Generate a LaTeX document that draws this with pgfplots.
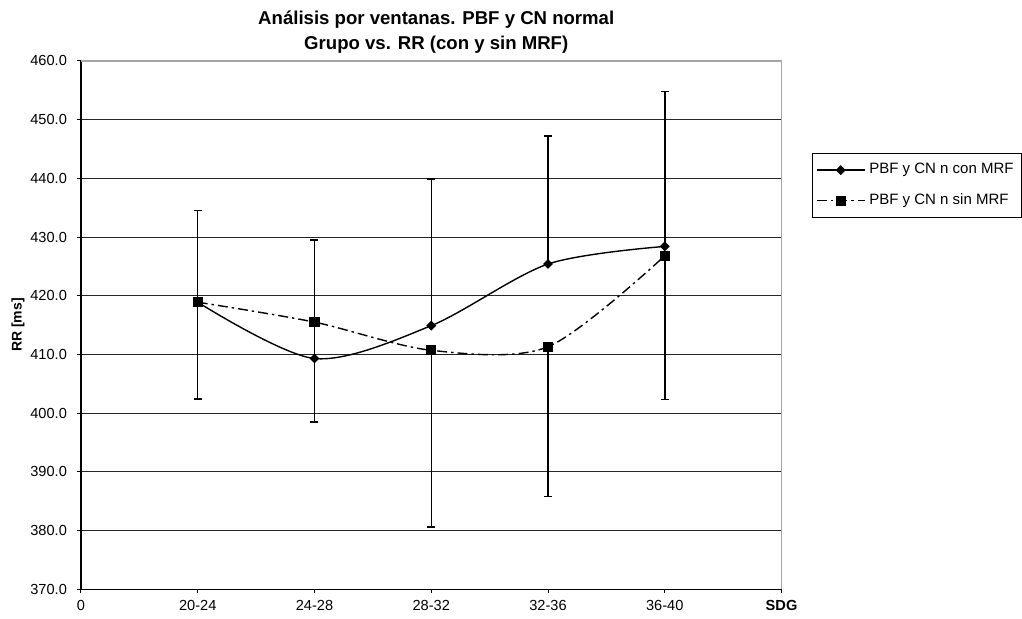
\documentclass[border=0pt]{standalone}
\usepackage{fontspec}
\setmainfont{Liberation Sans}
\usepackage{pgfplots}
\pgfplotsset{compat=1.18}
\begin{document}
\begin{tikzpicture}
\begin{axis}[
  name=ax, scale only axis, width=350.5pt, height=264.25pt,
  xmin=0, xmax=6, ymin=370, ymax=460,
  axis lines=left, axis line style={-, black, line width=0.6pt},
  xtick={0,...,6},
  xticklabels={0,20-24,24-28,28-32,32-36,36-40,\textbf{SDG}},
  ytick={370,380,...,460},
  ymajorgrids, grid style={black!85, line width=0.45pt},
  tick style={black, line width=0.5pt}, major tick length=2pt, tick align=outside,
  ticklabel style={font=\fontsize{7.3}{8}\selectfont},
  /pgf/number format/assume math mode=true,
  yticklabel style={/pgf/number format/fixed, /pgf/number format/fixed zerofill, /pgf/number format/precision=1, xshift=-1.5pt},
  xticklabel style={yshift=0pt},
  clip=false,
  legend cell align=left,
  legend style={at={(1,1)}, anchor=north west, xshift=15pt, yshift=-46pt,
    draw=black, line width=0.5pt, font=\fontsize{7.5}{9}\selectfont,
    inner xsep=2pt, inner ysep=3pt, row sep=4.5pt},
  legend image code/.code={\draw[mark repeat=2,mark phase=2,#1] plot coordinates {(0pt,0pt) (12pt,0pt) (24pt,0pt)};},
]
\addlegendimage{black, line width=0.7pt, mark=square*, mark size=1.4pt, mark options={rotate=45, solid}}
\addlegendentry{PBF y CN n con MRF}
\addlegendimage{black, line width=0.7pt, dash pattern=on 5pt off 2pt on 1.2pt off 2pt, mark=square*, mark size=2.2pt, mark options={solid}}
\addlegendentry{PBF y CN n sin MRF}

\addplot[forget plot, black, line width=0.7pt, smooth, tension=0.5,
  mark=square*, mark size=1.4pt, mark options={rotate=45, solid},
  error bars/.cd, y dir=plus, y explicit, error mark=-,
  error bar style={line width=0.75pt, solid},
  error mark options={rotate=90, black, mark size=2pt, line width=0.75pt, solid}]
coordinates {
  (1,418.9) += (0,15.6)
  (2,409.3) += (0,20.2)
  (3,414.9) += (0,25.0)
  (4,425.4) += (0,21.8)
  (5,428.4) += (0,26.4)
};
\addplot[forget plot, black, line width=0.7pt, smooth, tension=0.5,
  dash pattern=on 5pt off 2pt on 1.2pt off 2pt,
  mark=square*, mark size=2.2pt, mark options={solid},
  error bars/.cd, y dir=minus, y explicit, error mark=-,
  error bar style={line width=0.75pt, solid},
  error mark options={rotate=90, black, mark size=2pt, line width=0.75pt, solid}]
coordinates {
  (1,418.9) -= (0,16.5)
  (2,415.5) -= (0,17.0)
  (3,410.7) -= (0,30.1)
  (4,411.3) -= (0,25.5)
  (5,426.8) -= (0,24.5)
};
\end{axis}
\draw[gray!70, line width=0.8pt] (ax.north west) -- (ax.north east) -- (ax.south east);
\node[font=\bfseries\fontsize{9.3}{11}\selectfont] at ([xshift=2.5pt,yshift=20.5pt]ax.north) {Análisis por ventanas. PBF y CN normal};
\node[font=\bfseries\fontsize{9.3}{11}\selectfont] at ([xshift=2.5pt,yshift=8.2pt]ax.north) {Grupo vs. RR (con y sin MRF)};
\node[font=\bfseries\fontsize{7}{8}\selectfont, rotate=90] at ([xshift=-31.5pt]ax.west) {RR [ms]};
\path[use as bounding box] ([xshift=-40.5pt,yshift=-14.75pt]ax.south west) rectangle ([xshift=120pt,yshift=30.5pt]ax.north east);
\end{tikzpicture}
\end{document}
